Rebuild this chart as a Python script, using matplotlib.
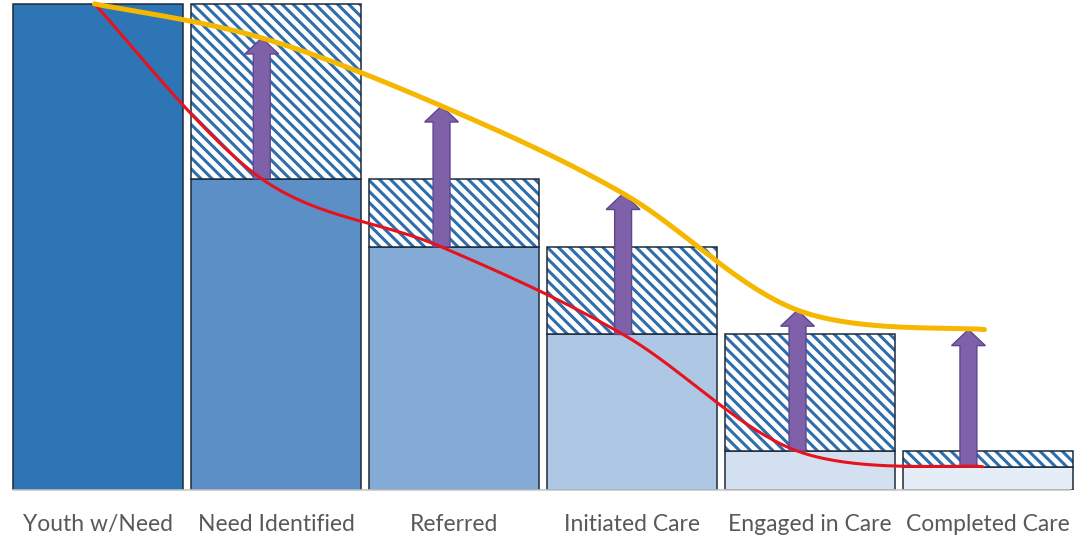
import numpy as np
import matplotlib.pyplot as plt
from matplotlib.patches import FancyArrow

# Care cascade: share of youth remaining at each step, and the potential with better engagement
stages = ['Youth w/Need', 'Need Identified', 'Referred', 'Initiated Care', 'Engaged in Care', 'Completed Care']
reached = [100, 64, 50, 32, 8, 4.8]
potential = [100, 93, 79, 61, 37, 33]
# hatched part of each bar reaches back up to the previous step
lost_top = [None, 100, 64, 50, 32, 8]

bar_colors = ['#2E75B6', '#5B8FC6', '#84ABD5', '#AEC7E4', '#D3E0F0', '#E5EDF6']
edge_col = '#1E2A3A'
hatch_col = '#2F6EAA'

# line points sit a little left of bar centres, like the arrows
line_x = [-0.02, 0.92, 1.93, 2.95, 3.93, 4.97]
arrow_x = [None, 0.92, 1.93, 2.95, 3.93, 4.89]


def smooth(x, y, n=40):
    # Catmull-Rom style smoothing (same as a spreadsheet "smoothed line")
    p = np.column_stack([x, y]).astype(float)
    p = np.vstack([p[0], p, p[-1]])
    out = []
    for i in range(1, len(p) - 2):
        p0, p1, p2, p3 = p[i - 1], p[i], p[i + 1], p[i + 2]
        c1 = p1 + (p2 - p0) / 6
        c2 = p2 - (p3 - p1) / 6
        t = np.linspace(0, 1, n)[:, None]
        seg = (1 - t) ** 3 * p1 + 3 * (1 - t) ** 2 * t * c1 + 3 * (1 - t) * t ** 2 * c2 + t ** 3 * p2
        out.append(seg if i == 1 else seg[1:])
    out = np.vstack(out)
    return out[:, 0], out[:, 1]


plt.rcParams['hatch.linewidth'] = 2.2
plt.rcParams['font.family'] = ['Lato', 'DejaVu Sans']

fig = plt.figure(figsize=(10.76, 5.36), dpi=100)
ax = fig.add_axes([0, 46 / 536, 1, 490 / 536])
ax.set_xlim(-98 / 178, (1076 - 98) / 178)
ax.set_ylim(0, 100.8)

xs = np.arange(len(stages))
w = 0.955

# solid bars
ax.bar(xs, reached, width=w, color=bar_colors, edgecolor=edge_col, linewidth=1.1, zorder=2)

# hatched "lost" portion on top of each bar
for i in range(1, len(stages)):
    h = lost_top[i] - reached[i]
    ax.bar(xs[i], h, bottom=reached[i], width=w, color='white', edgecolor=hatch_col,
           hatch='\\\\\\', linewidth=0, zorder=2)
    ax.bar(xs[i], h, bottom=reached[i], width=w, color='none', edgecolor=edge_col,
           linewidth=1.1, zorder=3)

# arrows from actual to potential
for i in range(1, len(stages)):
    arr = FancyArrow(arrow_x[i], reached[i], 0, potential[i] - reached[i], width=0.095,
                     head_width=0.19, head_length=3.3, length_includes_head=True,
                     facecolor='#7E61A9', edgecolor='#5E4791', linewidth=1.0, zorder=4)
    ax.add_patch(arr)

# smoothed lines
rx, ry = smooth(line_x, reached)
ax.plot(rx, ry, color='#E8121C', lw=2.2, solid_capstyle='round', zorder=5)
px_ = line_x[:-1] + [4.98]
yx, yy = smooth(px_, potential)
ax.plot(yx, yy, color='#F5B700', lw=3.6, solid_capstyle='round', zorder=6)

for s in ['top', 'right', 'left']:
    ax.spines[s].set_visible(False)
ax.spines['bottom'].set_color('#C8C8C8')
ax.spines['bottom'].set_linewidth(1.2)
ax.spines['bottom'].set_bounds(-0.48, 5.46)
ax.set_yticks([])
ax.set_xticks(xs)
ax.set_xticklabels(stages, fontsize=16.5, color='#595959')
ax.tick_params(axis='x', length=0, pad=17)

fig.savefig('out.png', dpi=100)
